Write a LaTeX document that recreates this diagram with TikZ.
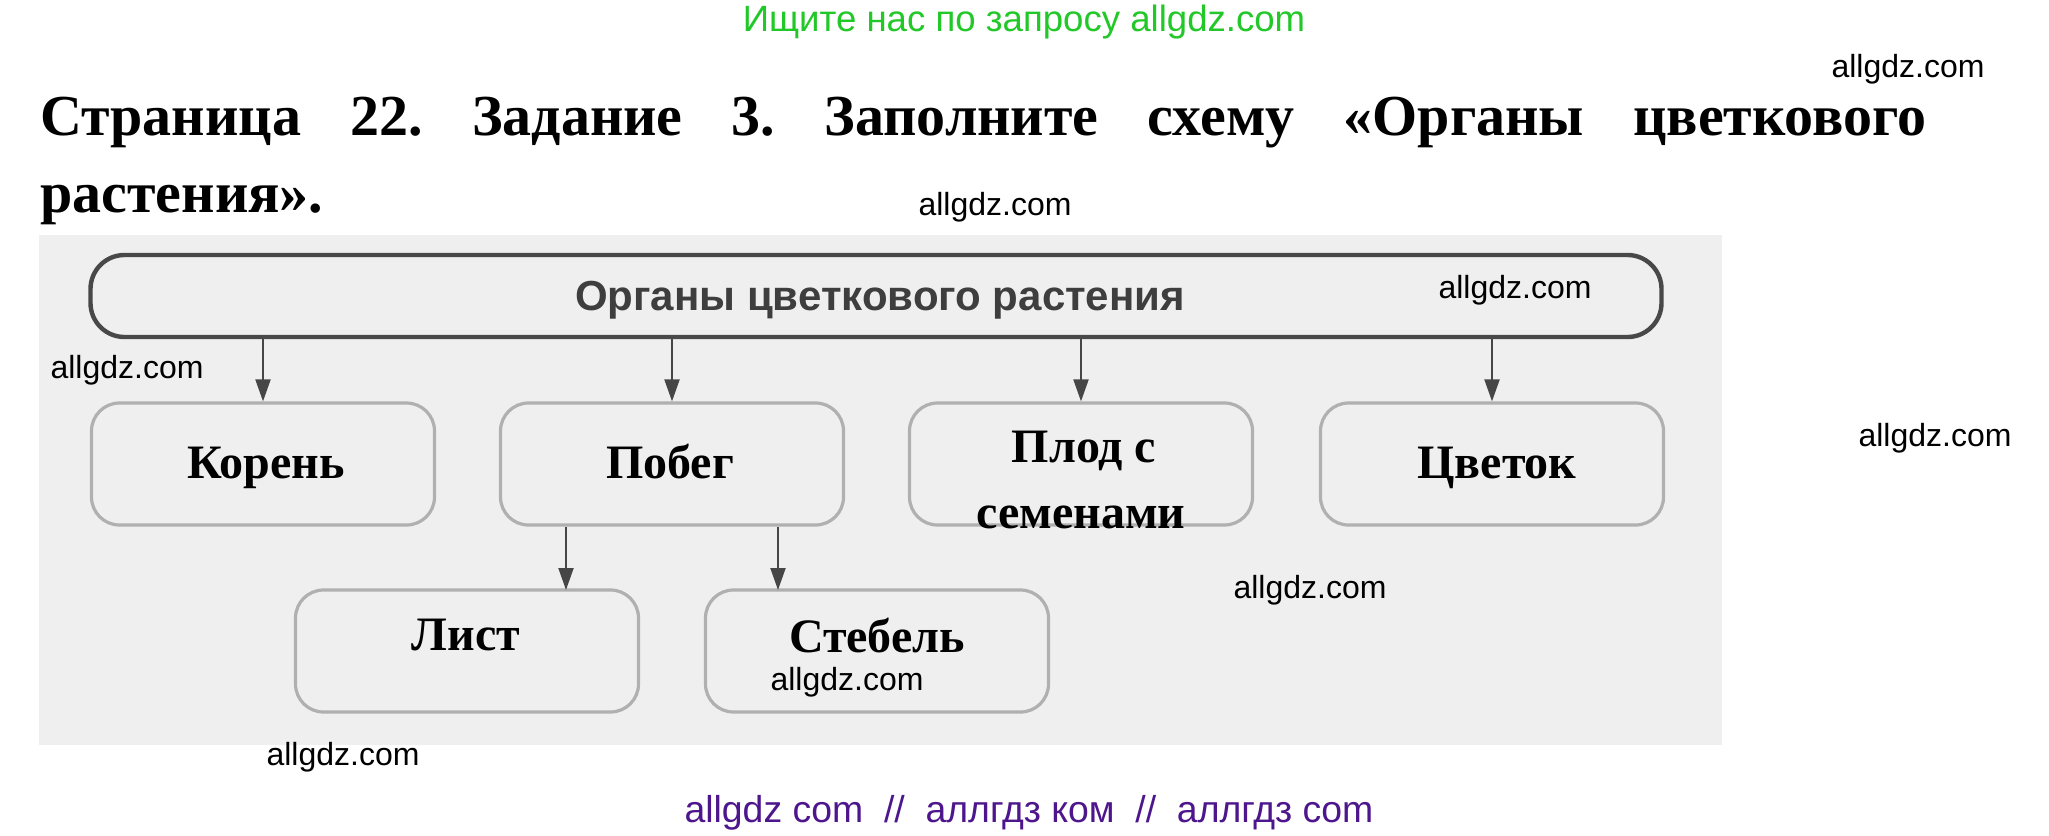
\documentclass[tikz,border=0pt]{standalone}
\usepackage{fontspec}
\setmainfont{Liberation Serif}
\setsansfont{Liberation Sans}
\usetikzlibrary{arrows.meta}
\definecolor{bgc}{RGB}{239,239,239}
\definecolor{topc}{RGB}{72,72,72}
\definecolor{toptxt}{RGB}{62,62,62}
\definecolor{boxc}{RGB}{176,176,176}
\definecolor{arrc}{RGB}{70,70,70}
\definecolor{grn}{RGB}{34,200,40}
\definecolor{purp}{RGB}{78,22,140}
\begin{document}
\begin{tikzpicture}[x=0.5pt,y=-0.5pt,
  organ/.style={draw=boxc, line width=1.6pt, rounded corners=14pt, minimum width=171.5pt, minimum height=61pt, inner sep=0pt},
  topbox/.style={draw=topc, line width=2.2pt, rounded corners=17pt, minimum width=785.5pt, minimum height=41pt, inner sep=0pt},
  lbl/.style={font=\bfseries\fontsize{24pt}{28pt}\selectfont, anchor=base, inner sep=0pt},
  wm/.style={font=\sffamily\fontsize{16pt}{18pt}\selectfont, anchor=base, inner sep=0pt},
  ttl/.style={font=\bfseries\fontsize{29pt}{34pt}\selectfont, anchor=base west, inner sep=0pt},
  arr/.style={draw=arrc, line width=1pt, -{Triangle[length=11pt,width=7.5pt]}}]
\useasboundingbox (0,0) rectangle (2049,835);
\fill[white] (0,0) rectangle (2049,835);
\fill[bgc] (39,235) rectangle (1722,745);

% header texts
\node[font=\sffamily\fontsize{18.3pt}{20pt}\selectfont, text=grn, anchor=base, inner sep=0pt] (search) at (1024,32) {Ищите нас по запросу allgdz.com};
\node[ttl] (title1) at (40,135) {\hbox to 943pt{Страница\hfill 22.\hfill Задание\hfill 3.\hfill Заполните\hfill схему\hfill «Органы\hfill цветкового}};
\node[ttl] (title2) at (40,212) {растения».};

% boxes
\node[topbox] (top) at (876,296) {};
\node[organ] (koren) at (263,464) {};
\node[organ] (pobeg) at (672,464) {};
\node[organ] (plod) at (1081,464) {};
\node[organ] (cvetok) at (1492,464) {};
\node[organ] (list) at (467,651) {};
\node[organ] (stebel) at (877,651) {};

% labels
\node[font=\sffamily\bfseries\fontsize{21pt}{24pt}\selectfont, text=toptxt, anchor=base, inner sep=0pt] (ttop) at (880,310) {Органы цветкового растения};
\node[lbl] (tkoren) at (266,478) {Корень};
\node[lbl] (tpobeg) at (670,478) {Побег};
\node[lbl] (tplod1) at (1084,462) {Плод с};
\node[lbl] (tplod2) at (1081,528) {семенами};
\node[lbl] (tcvetok) at (1497,478) {Цветок};
\node[lbl] (tlist) at (466,650) {Лист};
\node[lbl] (tstebel) at (877,652) {Стебель};

% connectors
\foreach \n in {koren,pobeg,plod,cvetok}
  \draw[arr] (top.south -| \n.north) -- (\n.north);
\coordinate (la) at (566,590);
\coordinate (sa) at (778,590);
\draw[arr] (pobeg.south -| la) -- (la);
\draw[arr] (pobeg.south -| sa) -- (sa);

% footer
\node[font=\sffamily\fontsize{18.7pt}{20pt}\selectfont, text=purp, anchor=base, inner sep=0pt] (foot) at (1029,822) {allgdz com\ \ //\ \ аллгдз ком\ \ //\ \ аллгдз com};

% watermarks
\node[wm] (w1) at (1908,77) {allgdz.com};
\node[wm] (w2) at (995,215) {allgdz.com};
\node[wm] (w3) at (1515,298) {allgdz.com};
\node[wm] (w4) at (127,378) {allgdz.com};
\node[wm] (w5) at (1935,446) {allgdz.com};
\node[wm] (w6) at (1310,598) {allgdz.com};
\node[wm] (w7) at (847,690) {allgdz.com};
\node[wm] (w8) at (343,765) {allgdz.com};
\end{tikzpicture}
\end{document}
